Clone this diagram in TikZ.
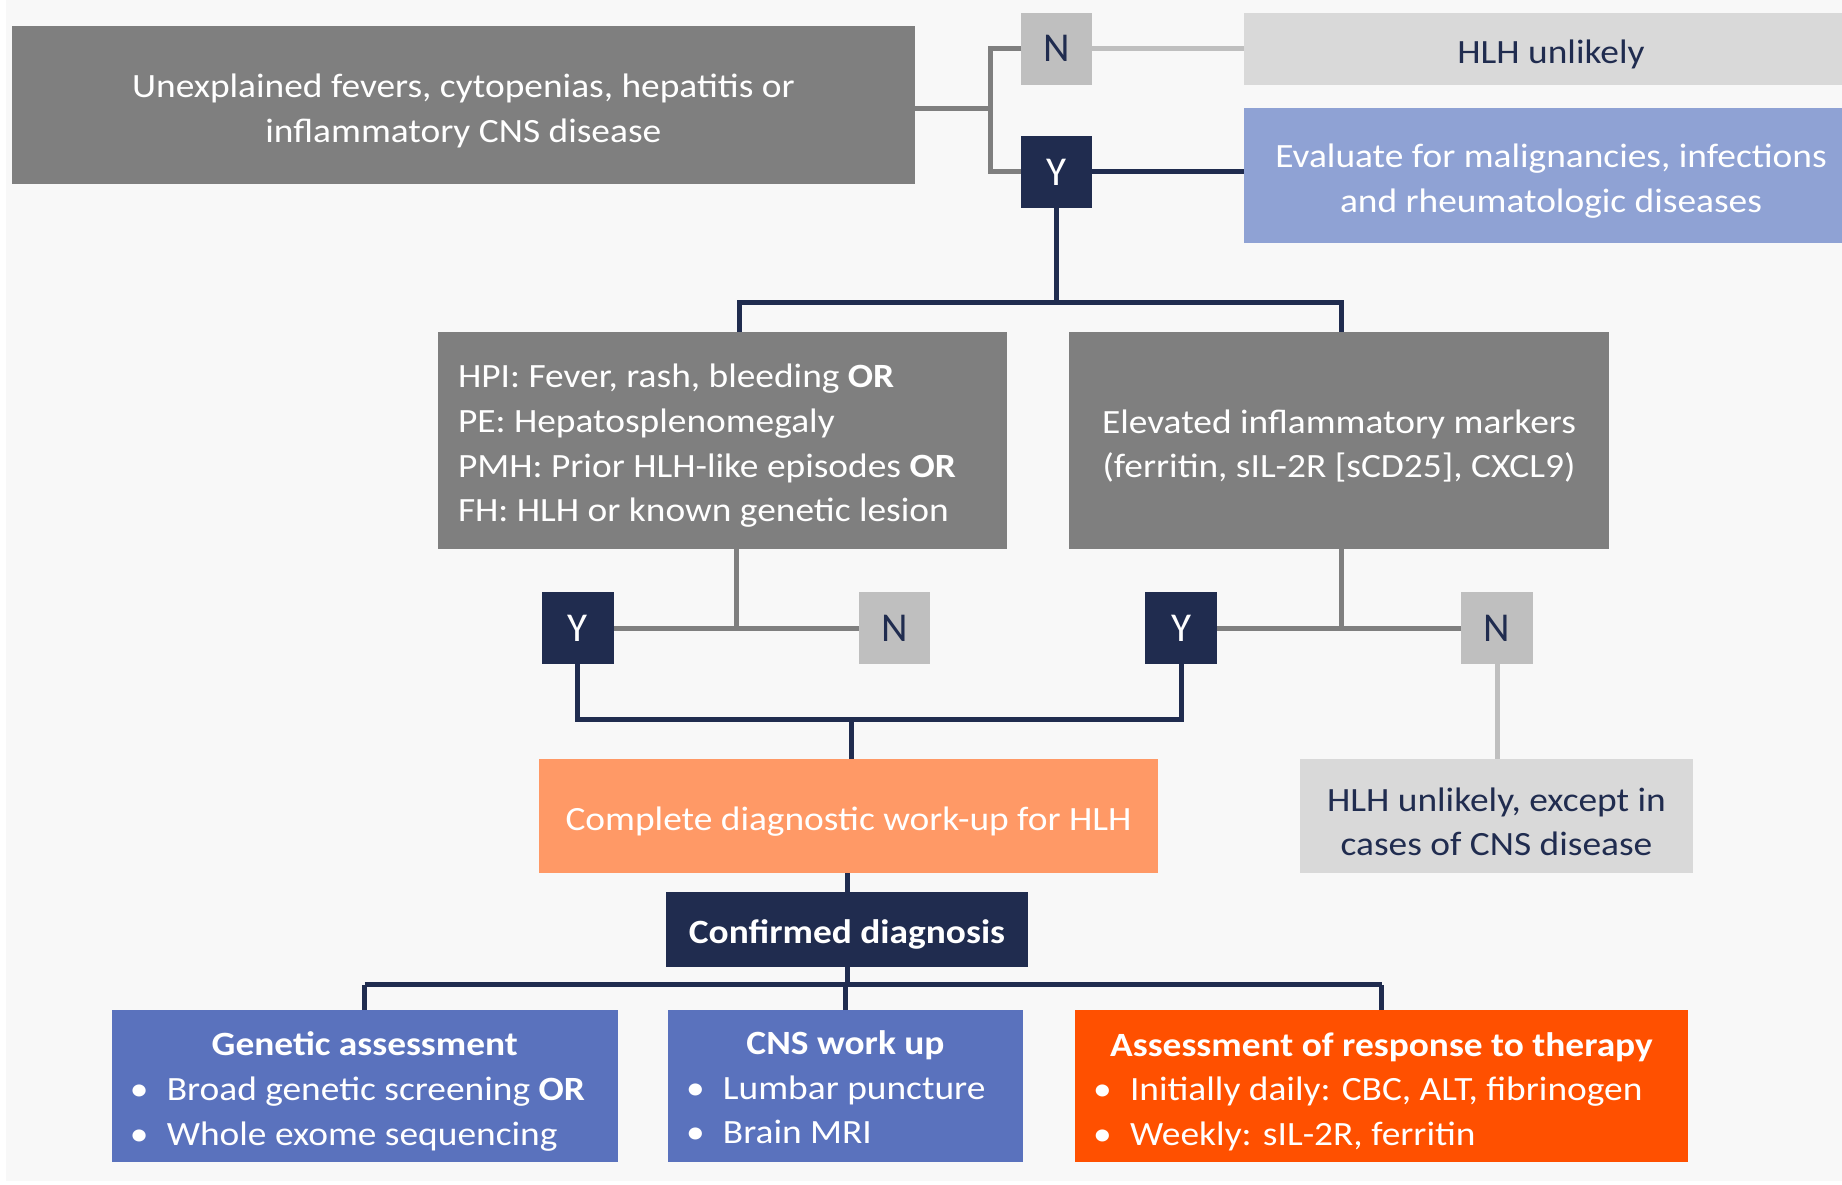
\documentclass[tikz,border=0pt]{standalone}
\usepackage{fontspec}
\setmainfont{Carlito}[FakeStretch=1.1]
\newfontfamily\ynfont{Carlito}
\usetikzlibrary{calc}
\definecolor{navy}{HTML}{202C4F}
\definecolor{dgray}{HTML}{7F7F7F}
\definecolor{mgray}{HTML}{BFBFBF}
\definecolor{lgray}{HTML}{D9D9D9}
\definecolor{lblue}{HTML}{8FA2D4}
\definecolor{mblue}{HTML}{5A72BD}
\definecolor{lorange}{HTML}{FF9966}
\definecolor{rorange}{HTML}{FF5000}
\definecolor{bg}{HTML}{F8F8F8}
\newcommand{\bul}{\makebox[29pt][l]{\hspace{-8pt}•}}
\newcommand{\tp}{\rule{0pt}{35pt}}
\newcommand{\bt}{\rule[-8.5pt]{0pt}{0pt}}
\tikzset{
  box/.style={anchor=north west, inner sep=0pt, outer sep=0pt, align=center,
    font=\fontsize{34}{44.6}\selectfont, text=white},
  yn/.style={box, font=\ynfont\fontsize{41}{48}\selectfont},
  gline/.style={draw=dgray, line width=5pt},
  lline/.style={draw=mgray, line width=5pt},
  nline/.style={draw=navy, line width=5pt},
}
\begin{document}
\begin{tikzpicture}[x=1pt,y=-1pt]
\useasboundingbox (0,0) rectangle (1842,1185);
\fill[bg] (6,0) rectangle (1842,1181);

\coordinate (ja) at (990,109);
\coordinate (hb) at (739,302);
\coordinate (eb) at (1341.5,302);
\coordinate (hc) at (736.5,0);
\coordinate (jc) at (851.5,719);
\coordinate (jd) at (0,984.5);

% boxes
\node[box, fill=dgray, minimum width=903.3pt, minimum height=158.6pt] (start) at (11.7,25.8)
  {\tp Unexplained fevers, cytopenias, hepatitis or\\inflammatory CNS disease};
\node[yn, fill=mgray, text=navy, minimum width=71pt, minimum height=71.6pt] (n1) at (1021,13) {N};
\node[box, fill=lgray, text=navy, minimum width=614pt, minimum height=71.6pt] (hlh1) at (1244,13) {\tp HLH unlikely};
\node[yn, fill=navy, minimum width=71pt, minimum height=72pt] (y1) at (1021,136) {Y};
\node[box, fill=lblue, minimum width=614pt, minimum height=135pt] (eval) at (1244,108)
  {\tp Evaluate for malignancies, infections\\and rheumatologic diseases};

\node[box, fill=dgray, align=left, minimum width=569pt, minimum height=216.6pt] (hpi) at (438,332)
  {\tp\makebox[529pt][l]{HPI: Fever, rash, bleeding \textbf{OR}}\\PE: Hepatosplenomegaly\\PMH: Prior HLH-like episodes \textbf{OR}\\FH: HLH or known genetic lesion};
\node[box, fill=dgray, minimum width=540pt, minimum height=216.6pt] (elev) at (1069,332)
  {\tp Elevated inflammatory markers\\(ferritin, sIL-2R [sCD25], CXCL9)};

\node[yn, fill=navy, minimum width=72.5pt, minimum height=72pt] (y2) at (541.5,592) {Y};
\node[yn, fill=mgray, text=navy, minimum width=71.5pt, minimum height=72pt] (n2) at (858.7,592) {N};
\node[yn, fill=navy, minimum width=72pt, minimum height=72pt] (y3) at (1145,592) {Y};
\node[yn, fill=mgray, text=navy, minimum width=72pt, minimum height=72pt] (n3) at (1461,592) {N};

\node[box, fill=lgray, text=navy, minimum width=393pt, minimum height=114pt] (hlh2) at (1300,759)
  {\tp HLH unlikely, except in\\cases of CNS disease};
\node[box, fill=lorange, minimum width=619pt, minimum height=114pt] (workup) at (539,759)
  {\tp Complete diagnostic work-up for HLH};
\node[box, fill=navy, minimum width=362pt, minimum height=75.4pt] (conf) at (666,891.6)
  {\tp\bfseries Confirmed diagnosis};

\node[box, fill=mblue, align=left, minimum width=506.4pt, minimum height=152pt] (gen) at (111.6,1010)
  {\tp\makebox[454pt][c]{\bfseries Genetic assessment}\\\bul Broad genetic screening \textbf{OR}\\\bul Whole exome sequencing};
\node[box, fill=mblue, align=left, minimum width=355pt, minimum height=152pt] (cns) at (668,1010)
  {\tp\makebox[303pt][c]{\bfseries CNS work up}\\\bul Lumbar puncture\\\bul Brain MRI\bt};
\node[box, fill=rorange, align=left, minimum width=613pt, minimum height=152pt] (resp) at (1075,1010)
  {\tp\makebox[561pt][c]{\bfseries Assessment of response to therapy}\\\bul Initially daily: CBC, ALT, fibrinogen\\\bul Weekly: sIL-2R, ferritin};

% connectors
\draw[gline] (start.east |- ja) -- (ja);
\draw[gline] (n1.west) -- (n1.west -| ja) -- (y1.west -| ja) -- (y1.west);
\draw[lline] (n1.east) -- (n1.east -| hlh1.west);
\draw[nline] (y1.east) -- (y1.east -| eval.west);
\draw[nline] (y1.south) -- (y1.south |- hb);
\draw[nline] (hb |- hpi.north) -- (hb) -- (eb) -- (eb |- elev.north);
\draw[gline] (hc |- hpi.south) -- (hc |- y2.east);
\draw[gline] (y2.east) -- (n2.west);
\draw[gline] (eb |- elev.south) -- (eb |- y3.east);
\draw[gline] (y3.east) -- (n3.west);
\draw[lline] (n3.south) -- (n3.south |- hlh2.north);
\draw[nline] (y2.south) |- (jc) -| (y3.south);
\draw[nline] (jc) -- (jc |- workup.north);
\draw[nline] (conf.north |- workup.south) -- (conf.north);
\draw[nline] (conf.south) -- (conf.south |- jd);
\draw[nline] (gen.north |- jd) -- (resp.north |- jd);
\draw[nline] (gen.north) -- (gen.north |- jd);
\draw[nline] (cns.north) -- (cns.north |- jd);
\draw[nline] (resp.north) -- (resp.north |- jd);
\end{tikzpicture}
\end{document}
